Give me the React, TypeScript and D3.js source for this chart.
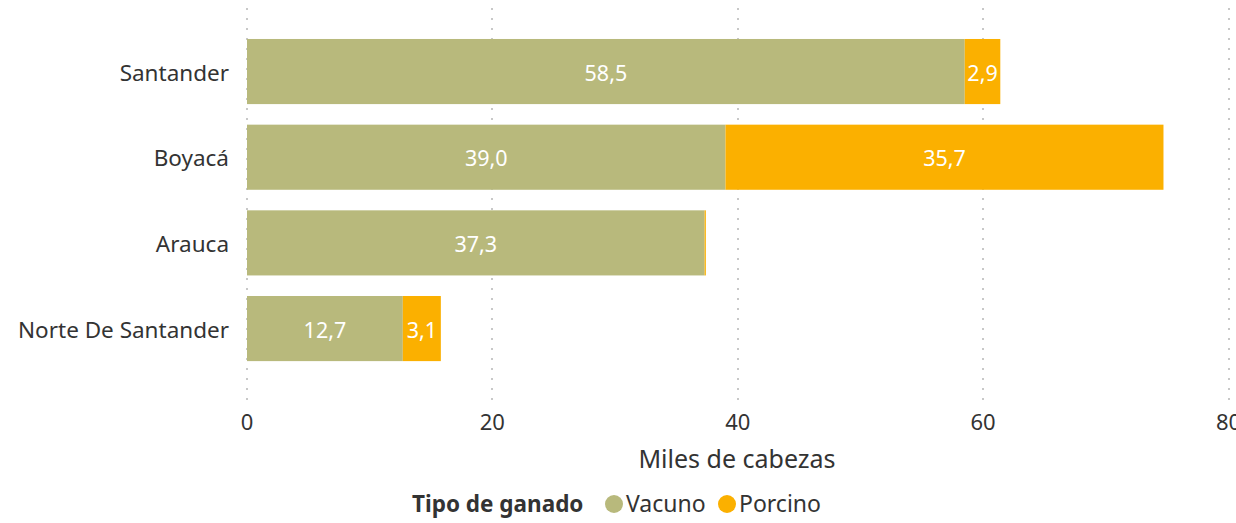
import React from "react";
import * as d3 from "d3";

const categories = ["Santander", "Boyacá", "Arauca", "Norte De Santander"];
const vacuno = [58.5, 39.0, 37.3, 12.7];
const porcino = [2.9, 35.7, 0.1, 3.1];
const xTicks = [0, 20, 40, 60, 80];
const seriesNames = ["Vacuno", "Porcino"];
const colors = ["#b8b97c", "#fbb000"];

const W = 1236;
const H = 523;
const FONT = "'Segoe UI', 'Noto Sans', sans-serif";

export default function App() {
  const x = d3.scaleLinear().domain([0, 80]).range([247, 1228.5]);
  const y = d3.scaleBand<string>().domain(categories).range([28.7, 371.4]).paddingInner(0.24).paddingOuter(0.12);
  const fmt = (v: number) => v.toFixed(1).replace(".", ",");
  const gridDots = d3.range(8, 400, 10);
  const legendX = [614, 727];

  return (
    <div style={{ position: "absolute", left: 0, top: 0 }}>
      <svg width={W} height={H} style={{ display: "block", fontFamily: FONT }}>
        {xTicks.map((t) => (
          <g key={t}>
            {gridDots.map((d) => (
              <rect key={d} x={Math.round(x(t)) - 1} y={d} width={2} height={2} fill="#c8c8c8" />
            ))}
            <text x={x(t)} y={430} textAnchor="middle" fontSize={22} fill="#333">
              {t}
            </text>
          </g>
        ))}
        {categories.map((c, i) => {
          const y0 = y(c)!;
          const bh = y.bandwidth();
          const cy = y0 + bh / 2;
          const x0 = x(0);
          const x1 = x(vacuno[i]);
          const x2 = x(vacuno[i] + porcino[i]);
          return (
            <g key={c}>
              <text x={229} y={cy + 9} textAnchor="end" fontSize={22.5} fill="#333">
                {c}
              </text>
              <rect x={x0} y={y0} width={x1 - x0} height={bh} fill={colors[0]} />
              <rect x={x1} y={y0} width={x2 - x1} height={bh} fill={colors[1]} />
              <text x={(x0 + x1) / 2} y={cy + 9} textAnchor="middle" fontSize={21.5} fill="#fff">
                {fmt(vacuno[i])}
              </text>
              {x2 - x1 > 20 && (
                <text x={(x1 + x2) / 2} y={cy + 9} textAnchor="middle" fontSize={21.5} fill="#fff">
                  {fmt(porcino[i])}
                </text>
              )}
            </g>
          );
        })}
        <text x={737} y={468} textAnchor="middle" fontSize={25} fill="#333">
          Miles de cabezas
        </text>
        <g>
          <text x={412} y={512} fontSize={22.5} fontWeight="bold" fill="#333">
            Tipo de ganado
          </text>
          {seriesNames.map((s, i) => (
            <g key={s}>
              <circle cx={legendX[i]} cy={504} r={9} fill={colors[i]} />
              <text x={legendX[i] + 12} y={512} fontSize={23} fill="#333">
                {s}
              </text>
            </g>
          ))}
        </g>
      </svg>
    </div>
  );
}
